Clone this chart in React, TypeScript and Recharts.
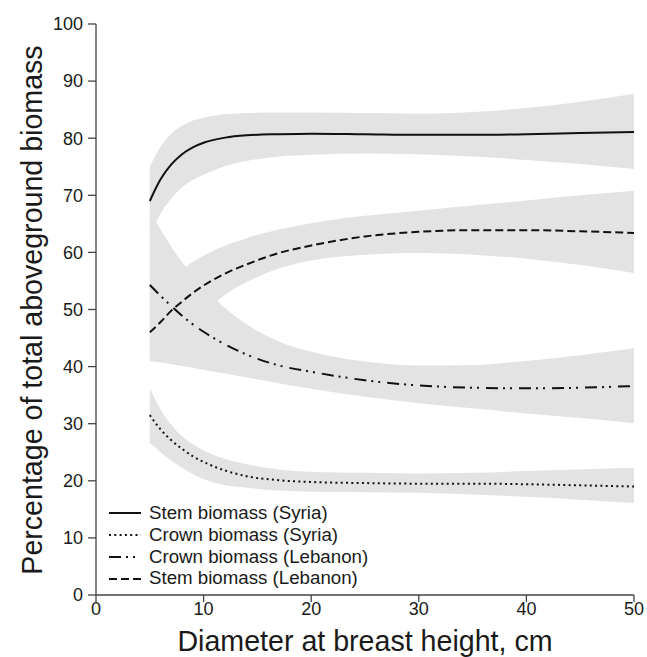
import {
  ComposedChart, Area, Line, XAxis, YAxis, Legend, Label
} from "recharts";

// diameter at breast height (cm)
const dbh = [5, 6, 7, 8, 9, 10, 12, 14, 17, 20, 25, 30, 35, 40, 45, 50];

// fitted percentages
const stemSyria = [69.0, 72.8, 75.4, 77.2, 78.4, 79.2, 80.1, 80.5, 80.7, 80.8, 80.7, 80.6, 80.6, 80.7, 80.9, 81.1];
const crownSyria = [31.5, 29.0, 27.1, 25.6, 24.3, 23.3, 21.8, 20.8, 20.1, 19.8, 19.6, 19.5, 19.5, 19.4, 19.2, 19.0];
const crownLebanon = [54.3, 52.4, 50.6, 48.9, 47.4, 46.1, 43.9, 42.1, 40.2, 39.1, 37.6, 36.7, 36.3, 36.2, 36.3, 36.6];
const stemLebanon = [46.0, 47.8, 49.8, 51.4, 52.9, 54.2, 56.3, 57.9, 59.9, 61.2, 62.8, 63.6, 63.9, 63.9, 63.7, 63.4];

// confidence bands
const stemSyriaLow = [63.0, 66.8, 69.4, 71.4, 72.7, 73.6, 75.1, 76.0, 76.8, 77.1, 77.3, 77.2, 76.8, 76.2, 75.5, 74.6];
const stemSyriaHigh = [75.0, 78.5, 80.8, 82.2, 83.1, 83.6, 84.2, 84.4, 84.5, 84.5, 84.4, 84.3, 84.6, 85.3, 86.4, 87.8];
const crownSyriaLow = [26.6, 25.0, 23.5, 22.3, 21.2, 20.3, 19.2, 18.8, 18.3, 18.1, 18.0, 17.9, 17.6, 17.2, 16.7, 16.1];
const crownSyriaHigh = [36.2, 32.5, 29.8, 27.8, 26.4, 25.3, 23.8, 22.9, 22.0, 21.6, 21.4, 21.3, 21.4, 21.7, 22.0, 22.3];
const crownLebanonLow = [41.0, 40.7, 40.4, 40.1, 39.8, 39.4, 38.8, 38.1, 37.1, 36.1, 34.7, 33.6, 32.7, 31.8, 31.0, 30.1];
const crownLebanonHigh = [67.5, 64.0, 61.0, 58.3, 56.0, 54.0, 50.2, 47.4, 44.4, 42.6, 40.9, 40.2, 40.3, 41.0, 42.0, 43.2];
const stemLebanonLow = [41.5, 43.0, 44.6, 46.3, 47.9, 49.6, 52.6, 54.8, 57.2, 58.6, 59.6, 59.9, 59.6, 58.9, 57.8, 56.4];
const stemLebanonHigh = [53.0, 54.3, 55.6, 57.0, 58.3, 59.4, 61.2, 62.5, 64.0, 65.1, 66.4, 67.3, 68.2, 69.1, 70.0, 70.8];

const xTicks = [0, 10, 20, 30, 40, 50];
const yTicks = [0, 10, 20, 30, 40, 50, 60, 70, 80, 90, 100];

const FONT = '"Liberation Sans", Arial, Helvetica, sans-serif';
const BAND = "#e3e3e3";
const INK = "#111";

const series = [
  { key: "stemSyria", name: "Stem biomass (Syria)", dash: undefined },
  { key: "crownSyria", name: "Crown biomass (Syria)", dash: "2 3.3" },
  { key: "crownLebanon", name: "Crown biomass (Lebanon)", dash: "12 5 2 5 2 7" },
  { key: "stemLebanon", name: "Stem biomass (Lebanon)", dash: "8 4" },
];

const rows = dbh.map((d, i) => ({
  dbh: d,
  stemSyria: stemSyria[i],
  crownSyria: crownSyria[i],
  crownLebanon: crownLebanon[i],
  stemLebanon: stemLebanon[i],
  stemSyriaBand: [stemSyriaLow[i], stemSyriaHigh[i]],
  crownSyriaBand: [crownSyriaLow[i], crownSyriaHigh[i]],
  crownLebanonBand: [crownLebanonLow[i], crownLebanonHigh[i]],
  stemLebanonBand: [stemLebanonLow[i], stemLebanonHigh[i]],
}));

function LegendBox() {
  return (
    <div style={{ fontFamily: FONT, fontSize: 18.7, color: "#1a1a1a" }}>
      {series.map((s) => (
        <div key={s.key} style={{ display: "flex", alignItems: "center", height: 21.8 }}>
          <svg width={32} height={6} style={{ marginRight: 8 }}>
            <line x1={0} y1={3} x2={32} y2={3} stroke={INK} strokeWidth={2} strokeDasharray={s.dash} />
          </svg>
          <span style={{ whiteSpace: "nowrap", lineHeight: 1 }}>{s.name}</span>
        </div>
      ))}
    </div>
  );
}

export default function App() {
  return (
    <div style={{ width: 647, height: 657, background: "#fff" }}>
      <style>{"body{margin:0}"}</style>
      <ComposedChart
        width={647}
        height={657}
        data={rows}
        margin={{ top: 24, right: 13, left: 0, bottom: 0 }}
      >
        <XAxis
          dataKey="dbh"
          type="number"
          domain={[0, 50]}
          ticks={xTicks}
          height={62}
          tickSize={7}
          tickMargin={0}
          axisLine={{ stroke: "#444", strokeWidth: 1.3 }}
          tickLine={{ stroke: "#444", strokeWidth: 1.3 }}
          tick={{ fontSize: 18, fill: "#1a1a1a", fontFamily: FONT }}
        >
          <Label
            value="Diameter at breast height, cm"
            position="insideBottom"
            offset={6}
            style={{ fontSize: 28.6, fill: "#1a1a1a", fontFamily: FONT }}
          />
        </XAxis>
        <YAxis
          type="number"
          domain={[0, 100]}
          ticks={yTicks}
          width={96}
          tickSize={8}
          tickMargin={5}
          axisLine={{ stroke: "#444", strokeWidth: 1.3 }}
          tickLine={{ stroke: "#444", strokeWidth: 1.3 }}
          tick={{ fontSize: 18, fill: "#1a1a1a", fontFamily: FONT }}
        >
          <Label
            content={() => (
              <text
                x={41.5}
                y={310}
                transform="rotate(-90 41.5 310)"
                textAnchor="middle"
                style={{ fontSize: 28.6, fill: "#1a1a1a", fontFamily: FONT }}
              >
                Percentage of total aboveground biomass
              </text>
            )}
          />
        </YAxis>

        {series.map((s) => (
          <Area
            key={s.key + "Band"}
            dataKey={s.key + "Band"}
            type="monotone"
            stroke="none"
            fill={BAND}
            fillOpacity={1}
            isAnimationActive={false}
            legendType="none"
          />
        ))}

        {series.map((s) => (
          <Line
            key={s.key}
            dataKey={s.key}
            name={s.name}
            type="monotone"
            stroke={INK}
            strokeWidth={2}
            strokeDasharray={s.dash}
            dot={false}
            activeDot={false}
            isAnimationActive={false}
          />
        ))}

        <Legend
          layout="vertical"
          align="center"
          verticalAlign="middle"
          content={() => <LegendBox />}
          wrapperStyle={{ left: 109, top: 502.5, width: "auto", height: "auto" }}
        />
      </ComposedChart>
    </div>
  );
}
